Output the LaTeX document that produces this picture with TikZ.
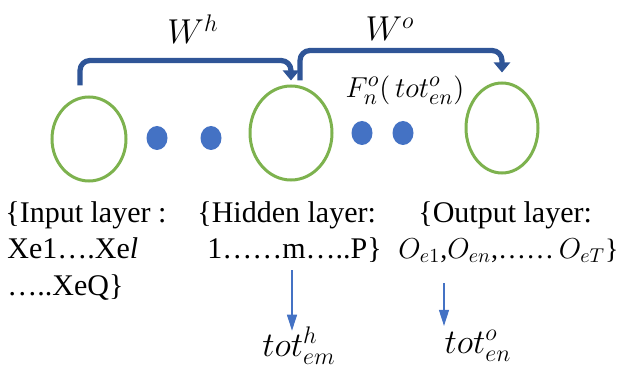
\documentclass[tikz,border=0pt]{standalone}
\usepackage{fontspec}
\setmainfont{Liberation Serif}
\usepackage{amsmath}
\usetikzlibrary{arrows.meta,shapes.geometric}
\definecolor{barblue}{RGB}{47,85,151}
\definecolor{dotblue}{RGB}{68,114,196}
\definecolor{ringgreen}{RGB}{125,178,78}
\tikzstyle{neuron}=[ellipse,draw=ringgreen,line width=1.5pt,inner sep=0pt]
\tikzstyle{dot}=[ellipse,fill=dotblue,minimum width=10.5pt,minimum height=12pt,inner sep=0pt]
\tikzstyle{wbar}=[barblue,line width=2.6pt,rounded corners=5pt,-{Triangle[width=8pt,length=5pt]}]
\tikzstyle{tarrow}=[dotblue,line width=0.6pt,-{Triangle[width=5pt,length=8pt]}]
\tikzstyle{layertxt}=[anchor=base west,inner sep=0pt,font=\fontsize{15}{18}\selectfont]
\tikzstyle{mathlbl}=[inner sep=0pt,font=\fontsize{17}{20}\selectfont]

\begin{document}
\begin{tikzpicture}[x=0.5pt,y=-0.5pt]
\useasboundingbox (0,0) rectangle (627,374);

\node[neuron,minimum width=37pt,minimum height=42pt] (in)  at (89, 139)  {};
\node[neuron,minimum width=41pt,minimum height=47pt] (hid) at (291, 133) {};
\node[neuron,minimum width=36pt,minimum height=45pt] (out) at (502, 128) {};

\node[dot] (d1) at (157, 138) {};
\node[dot] (d2) at (211, 138) {};
\node[dot] (d3) at (362, 133) {};
\node[dot] (d4) at (403, 133) {};

\draw[wbar] ([shift={(-9,-10)}]in.north) -- ++(0,-25) -| ([shift={(0,-4)}]hid.north);
\draw[wbar] ([shift={(9,-4)}]hid.north) -- ++(0,-30) -| ([shift={(0,-9)}]out.north);

\node[mathlbl] (wh) at (193, 29) {$W^h$};
\node[mathlbl] (wo) at (390, 29) {$W^o$};
\node[mathlbl,font=\fontsize{15}{18}\selectfont] (fn) at (405, 90) {$F^o_n(\,tot^o_{en})$};

\node[layertxt] (inl1) at (5, 222)   {\{Input layer :};
\node[layertxt] (inl2) at (7, 258)   {Xe1….Xe\textit{l}};
\node[layertxt] (inl3) at (7, 295)   {…..XeQ\}};
\node[layertxt] (hidl1) at (197, 222) {\{Hidden layer:};
\node[layertxt] (hidl2) at (207, 258) {1……m…..P\}};
\node[layertxt] (outl1) at (418, 222) {\{Output layer:};
\node[layertxt,font=\fontsize{14}{17}\selectfont] (outl2) at (398, 258) {$O_{e1}$,$O_{en}$,……\,$O_{eT}$\}};

\node[mathlbl] (toth) at (299, 346) {$tot^h_{em}$};
\node[mathlbl] (toto) at (478, 346) {$tot^o_{en}$};

\coordinate (ah) at (292, 270);
\coordinate (ao) at (444, 283);
\draw[tarrow] (ah) -- ([yshift=-2pt]ah |- toth.north);
\draw[tarrow] (ao) -- ([yshift=2pt]ao |- toto.north);

\end{tikzpicture}
\end{document}
